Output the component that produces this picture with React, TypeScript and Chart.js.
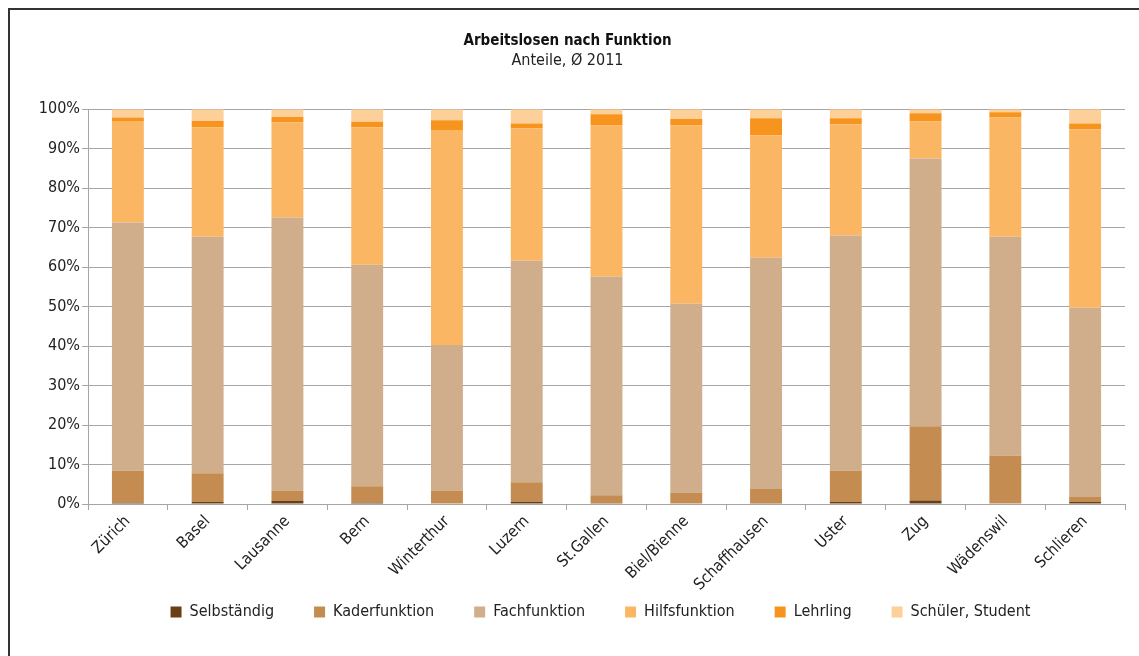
import React, { useEffect, useRef } from "react";
import { Chart, registerables } from "chart.js";

Chart.register(...registerables);

const categories = ["Zürich", "Basel", "Lausanne", "Bern", "Winterthur", "Luzern", "St.Gallen", "Biel/Bienne", "Schaffhausen", "Uster", "Zug", "Wädenswil", "Schlieren"];
const selbstaendig = [0.3, 0.5, 0.8, 0.3, 0.0, 0.6, 0.2, 0.0, 0.2, 0.5, 0.9, 0.0, 0.5];
const kaderfunktion = [8.1, 7.3, 2.6, 4.2, 3.4, 4.9, 2.0, 2.9, 3.6, 7.9, 18.8, 12.2, 1.3];
const fachfunktion = [62.9, 59.9, 69.2, 56.1, 36.9, 56.1, 55.4, 47.8, 58.6, 59.6, 67.8, 55.5, 47.9];
const hilfsfunktion = [25.7, 27.7, 24.1, 34.8, 54.4, 33.6, 38.3, 45.2, 31.0, 28.2, 9.4, 30.2, 45.2];
const lehrling = [0.9, 1.6, 1.3, 1.4, 2.5, 1.2, 2.8, 1.6, 4.3, 1.5, 2.1, 1.3, 1.5];
const schueler = [2.1, 3.0, 2.0, 3.2, 2.8, 3.6, 1.3, 2.5, 2.3, 2.3, 1.0, 0.8, 3.6];
const yTicks = [0, 10, 20, 30, 40, 50, 60, 70, 80, 90, 100];

const seriesNames = ["Selbständig", "Kaderfunktion", "Fachfunktion", "Hilfsfunktion", "Lehrling", "Schüler, Student"];
const seriesColors = ["#6b3f14", "#c48c50", "#d0ae8c", "#fbb664", "#f7941d", "#fdd09a"];
const seriesData = [selbstaendig, kaderfunktion, fachfunktion, hilfsfunktion, lehrling, schueler];

const FONT = '"Liberation Sans Narrow", "DejaVu Sans Condensed", "Open Sans", sans-serif';

const legendShift = {
  id: "legendShift",
  afterLayout(chart: any) {
    const lg = chart.legend;
    if (lg) {
      lg.left += 33;
      lg.right += 33;
      lg.top -= 26;
      lg.bottom -= 26;
      if (lg.legendHitBoxes) lg.legendHitBoxes.forEach((h: any) => { h.left += 33; h.top -= 26; });
    }
  },
};

export default function App() {
  const ref = useRef<HTMLCanvasElement | null>(null);
  useEffect(() => {
    if (!ref.current) return;
    const chart = new Chart(ref.current, {
      type: "bar",
      data: {
        labels: categories,
        datasets: seriesNames.map((name, i) => ({
          label: name,
          data: seriesData[i],
          backgroundColor: seriesColors[i],
          borderWidth: 0,
          barPercentage: 0.8,
          categoryPercentage: 0.5,
        })),
      },
      plugins: [legendShift],
      options: {
        animation: false,
        responsive: false,
        maintainAspectRatio: false,
        layout: { padding: { left: 0, right: 14, top: 0, bottom: 0 } },
        plugins: {
          title: {
            display: true,
            text: "Arbeitslosen nach Funktion",
            color: "#111",
            font: { family: FONT, size: 15, weight: "bold", lineHeight: 1.2 },
            padding: { top: 22, bottom: 1 },
          },
          subtitle: {
            display: true,
            text: "Anteile, Ø 2011",
            color: "#222",
            font: { family: FONT, size: 16, lineHeight: 1.2 },
            padding: { top: 0, bottom: 39 },
          },
          legend: {
            position: "bottom",
            labels: {
              color: "#222",
              font: { family: FONT, size: 16 },
              boxWidth: 11,
              boxHeight: 11,
              padding: 40,
            },
          },
          tooltip: { enabled: false },
        },
        scales: {
          x: {
            stacked: true,
            grid: { display: true, drawOnChartArea: false, color: "#a6a6a6", tickLength: 6, offset: true },
            border: { color: "#a6a6a6" },
            ticks: { color: "#222", font: { family: FONT, size: 16 }, minRotation: 45, maxRotation: 45, padding: 2 },
            afterFit: (s: any) => { s.height = 86; },
          },
          y: {
            stacked: true,
            min: 0,
            max: 100,
            afterBuildTicks: (s: any) => { s.ticks = yTicks.map((v) => ({ value: v })); },
            grid: { color: "#a6a6a6", tickLength: 6 },
            border: { color: "#a6a6a6" },
            ticks: { color: "#222", font: { family: FONT, size: 16 }, padding: 2, callback: (v: any) => v + "%" },
            afterFit: (s: any) => { s.width = 78; },
          },
        },
      } as any,
    });
    return () => chart.destroy();
  }, []);
  return (
    <div style={{ position: "fixed", left: 8, top: 8, borderTop: "2px solid #333", borderLeft: "2px solid #333", width: 1131, height: 648, boxSizing: "border-box", overflow: "hidden", background: "#fff" }}>
      <canvas ref={ref} width={1129} height={646} style={{ display: "block" }} />
    </div>
  );
}
